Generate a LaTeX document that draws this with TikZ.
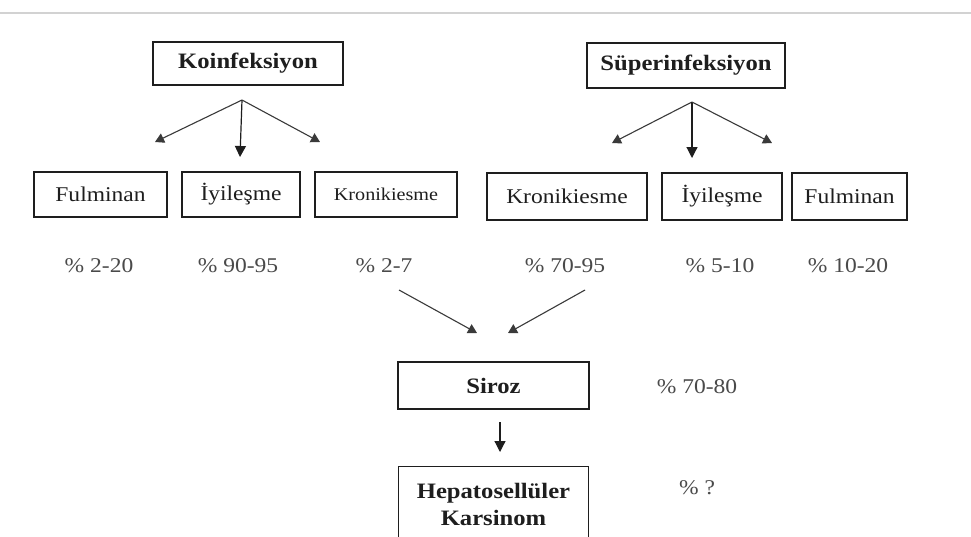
\documentclass[tikz,border=0pt]{standalone}
\usepackage{fontspec}
\setmainfont[FakeStretch=1.12]{Liberation Serif}
\usetikzlibrary{arrows.meta}
\definecolor{ink}{HTML}{1E1E1E}
\definecolor{lineg}{HTML}{3A3A3A}
\definecolor{pct}{HTML}{4A4A4A}
\begin{document}
\begin{tikzpicture}[x=1pt,y=-1pt,
  box/.style={draw=ink,line width=1.4pt,inner sep=0pt,text=ink,align=center},
  bigtxt/.style={font=\fontsize{22}{27}\selectfont\bfseries},
  smalltxt/.style={font=\fontsize{21}{25}\selectfont},
  pcttxt/.style={text=pct,font=\fontsize{21}{25}\selectfont},
  arr/.style={draw=lineg,line width=1.1pt,-{Triangle[length=9pt,width=10pt]}},
  arrv/.style={draw=ink,line width=1.2pt,-{Triangle[length=11pt,width=11pt]}}]
\useasboundingbox (0,0) rectangle (971,536);
\fill[white] (0,0) rectangle (971,536);
\draw[gray!35,line width=2pt] (0,13) -- (971,13);

% top boxes
\node[box,bigtxt,minimum width=190pt,minimum height=43pt] (koi) at (248,63.5) {Koinfeksiyon};
\node[box,bigtxt,minimum width=198pt,minimum height=45pt] (sup) at (686,65.5) {Süperinfeksiyon};

% second row
\node[box,smalltxt,minimum width=133pt,minimum height=45pt] (fulL) at (100.5,194.5) {Fulminan};
\node[box,smalltxt,minimum width=118pt,minimum height=45pt] (iyiL) at (241,194.5) {İyileşme};
\node[box,font=\fontsize{18}{22}\selectfont,text=ink,minimum width=142pt,minimum height=45pt] (kroL) at (386,194.5) {Kronikiesme};
\node[box,smalltxt,minimum width=160pt,minimum height=47pt] (kroR) at (567,196.5) {Kronikiesme};
\node[box,smalltxt,minimum width=120pt,minimum height=47pt] (iyiR) at (722,196.5) {İyileşme};
\node[box,smalltxt,minimum width=115pt,minimum height=47pt] (fulR) at (849.5,196.5) {Fulminan};

% percentages
\node[pcttxt] (p1) at (99,266) {\% 2-20};
\node[pcttxt] (p2) at (238,266) {\% 90-95};
\node[pcttxt] (p3) at (384,266) {\% 2-7};
\node[pcttxt] (p4) at (565,266) {\% 70-95};
\node[pcttxt] (p5) at (720,266) {\% 5-10};
\node[pcttxt] (p6) at (848,266) {\% 10-20};

% lower boxes
\node[box,bigtxt,minimum width=191pt,minimum height=47pt] (siroz) at (493.5,385.5) {Siroz};
\node[pcttxt] (p7) at (697,387) {\% 70-80};
\node[box,bigtxt,anchor=north,minimum width=190pt,minimum height=76pt] (hcc) at (493.5,466) {Hepatosellüler\\Karsinom};
\node[pcttxt] (p8) at (697,488) {\% ?};

% connector points
\coordinate (ks) at (242,100);
\coordinate (kt1) at (155,142);
\coordinate (kt2) at (240,157);
\coordinate (kt3) at (320,142);
\coordinate (ss) at (692,102);
\coordinate (st1) at (612,143);
\coordinate (st2) at (692,158);
\coordinate (st3) at (772,143);
\coordinate (cl) at (399,290);
\coordinate (clt) at (477,333);
\coordinate (cr) at (585,290);
\coordinate (crt) at (508,333);
\coordinate (ds) at (500,422);
\coordinate (dt) at (500,452);

\draw[arr] (ks) -- (kt1);
\draw[arrv] (ks) -- (kt2);
\draw[arr] (ks) -- (kt3);
\draw[arr] (ss) -- (st1);
\draw[arrv] (ss) -- (st2);
\draw[arr] (ss) -- (st3);
\draw[arr] (cl) -- (clt);
\draw[arr] (cr) -- (crt);
\draw[arrv] (ds) -- (dt);
\end{tikzpicture}
\end{document}
